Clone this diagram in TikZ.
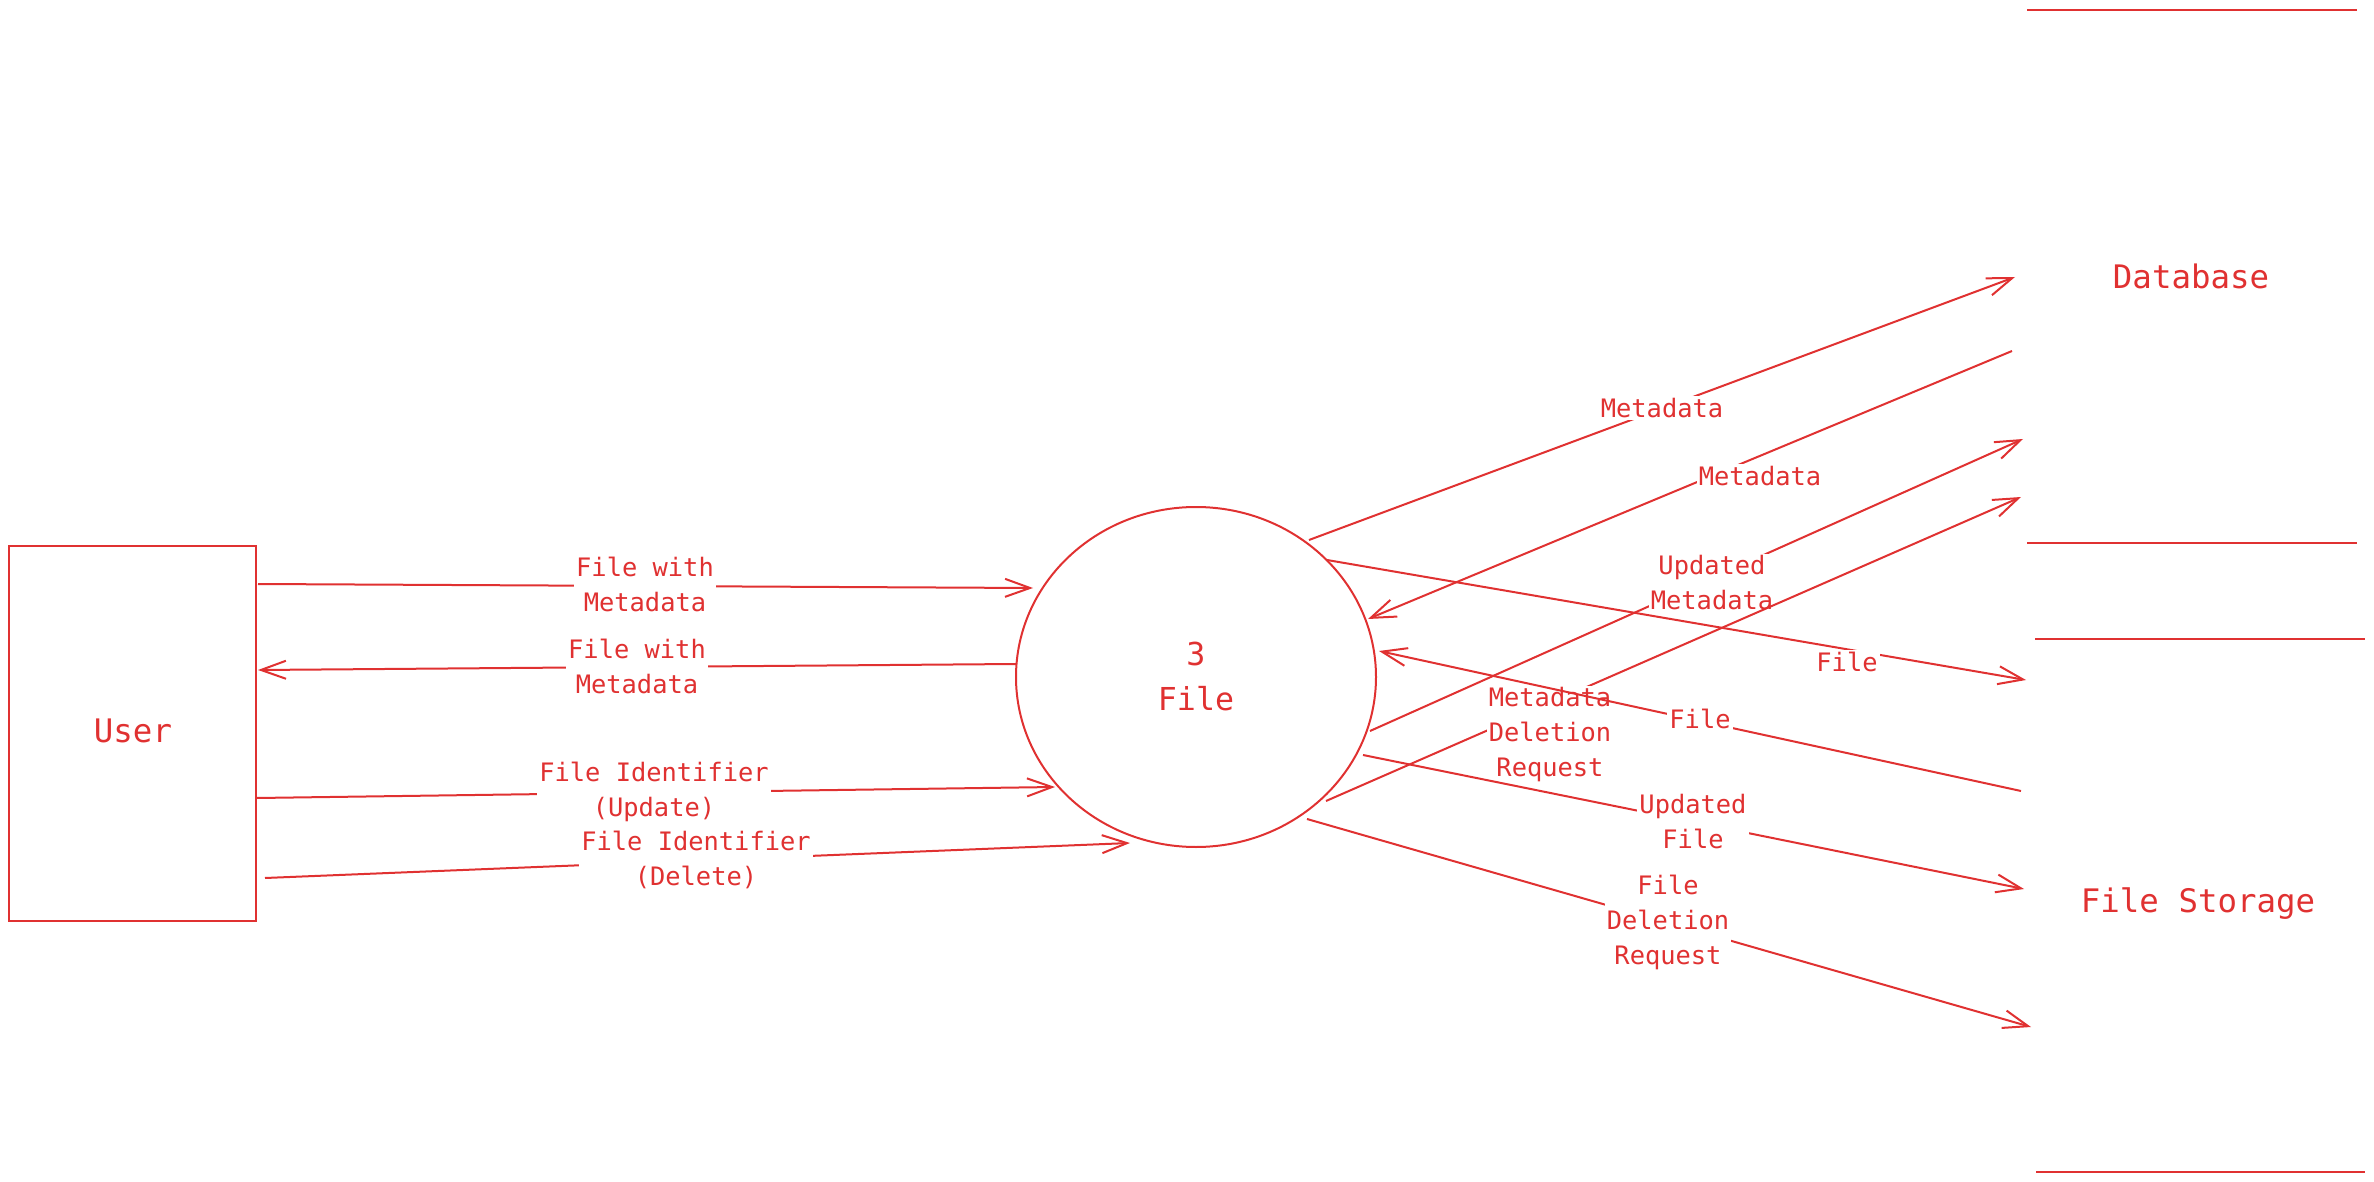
\documentclass[tikz,border=0pt]{standalone}
\usepackage{fontspec}
\setmainfont{DejaVu Sans Mono}
\usetikzlibrary{arrows.meta,shapes.geometric}
\definecolor{exred}{RGB}{224,49,49}
\tikzset{
  flow/.style={draw=exred, line width=1pt, -{Straight Barb[length=12.5pt,width=9pt]}},
  plain/.style={draw=exred, line width=1pt},
  lbl/.style={fill=white, text=exred, inner sep=1pt, align=center,
    font=\fontsize{12.7pt}{17.5pt}\selectfont},
  big/.style={text=exred, inner sep=0pt, align=center,
    font=\fontsize{16.2pt}{20pt}\selectfont}
}
\begin{document}
\begin{tikzpicture}[x=0.5pt,y=-0.5pt]
\useasboundingbox (0,0) rectangle (2374,1182);
% entities
\node[draw=exred, line width=1pt, minimum width=123.5pt, minimum height=187.5pt, inner sep=0pt] (userbox) at (132.5,733.5) {};
\node[big] (user) at (133,731) {User};
\node[ellipse, draw=exred, line width=1pt, minimum width=180pt, minimum height=170pt, inner sep=0pt] (proc) at (1196,677) {};
\node[text=exred, align=center, font=\fontsize{15.8pt}{22.5pt}\selectfont] (proctext) at (1196,676) {3\\File};
% data stores
\coordinate (dbtl) at (2027,10); \coordinate (dbtr) at (2357,10);
\coordinate (dbbl) at (2027,543); \coordinate (dbbr) at (2357,543);
\draw[plain] (dbtl) -- (dbtr);
\draw[plain] (dbbl) -- (dbbr);
\node[big] (db) at (2191,276) {Database};
\coordinate (fstl) at (2035,639); \coordinate (fstr) at (2365,639);
\coordinate (fsbl) at (2036,1172); \coordinate (fsbr) at (2365,1172);
\draw[plain] (fstl) -- (fstr);
\draw[plain] (fsbl) -- (fsbr);
\node[big] (fs) at (2198,904) {File Storage};
% endpoints
\coordinate (a1s) at (258,584);  \coordinate (a1e) at (1033,588);
\coordinate (a2s) at (1016,664); \coordinate (a2e) at (258,670);
\coordinate (a3s) at (257,798);  \coordinate (a3e) at (1055,787);
\coordinate (a4s) at (265,878);  \coordinate (a4e) at (1130,843);
\coordinate (a5s) at (1309,540); \coordinate (a5e) at (2015,277);
\coordinate (a6s) at (2012,351); \coordinate (a6e) at (1368,619);
\coordinate (a7s) at (1370,731); \coordinate (a7e) at (2023,439);
\coordinate (a8s) at (1326,801); \coordinate (a8e) at (2021,497);
\coordinate (a9s) at (1327,560); \coordinate (a9e) at (2026,680);
\coordinate (a10s) at (2021,791); \coordinate (a10e) at (1379,651);
\coordinate (a11s) at (1363,755); \coordinate (a11e) at (2024,889);
\coordinate (a12s) at (1307,819); \coordinate (a12e) at (2031,1027);
% user flows
\draw[flow] (a1s) -- (a1e);
\node[lbl] (l1) at (645,584) {File with\\Metadata};
\draw[flow] (a2s) -- (a2e);
\node[lbl] (l2) at (637,666) {File with\\Metadata};
\draw[flow] (a3s) -- (a3e);
\node[lbl] (l3) at (654,792) {File Identifier\\(Update)};
\draw[flow] (a4s) -- (a4e);
\node[lbl] (l4) at (696,860) {File Identifier\\(Delete)};
% database flows
\draw[flow] (a5s) -- (a5e);
\node[lbl] (l5) at (1662,408) {Metadata};
\draw[flow] (a6s) -- (a6e);
\node[lbl] (l6) at (1760,476) {Metadata};
\draw[flow] (a7s) -- (a7e);
\node[lbl] (l7) at (1712,583) {Updated\\Metadata};
\draw[flow] (a8s) -- (a8e);
\node[lbl] (l8) at (1550,735) {Metadata\\Deletion\\Request};
% file storage flows
\draw[flow] (a9s) -- (a9e);
\node[lbl] (l9) at (1847,662) {File};
\draw[flow] (a12s) -- (a12e);
\node[lbl] (l12) at (1668,922) {File\\Deletion\\Request};
\draw[flow] (a10s) -- (a10e);
\node[lbl] (l10) at (1700,719) {File};
\draw[flow] (a11s) -- (a11e);
\node[lbl] (l11) at (1693,822) {Updated\\File};
\end{tikzpicture}
\end{document}
